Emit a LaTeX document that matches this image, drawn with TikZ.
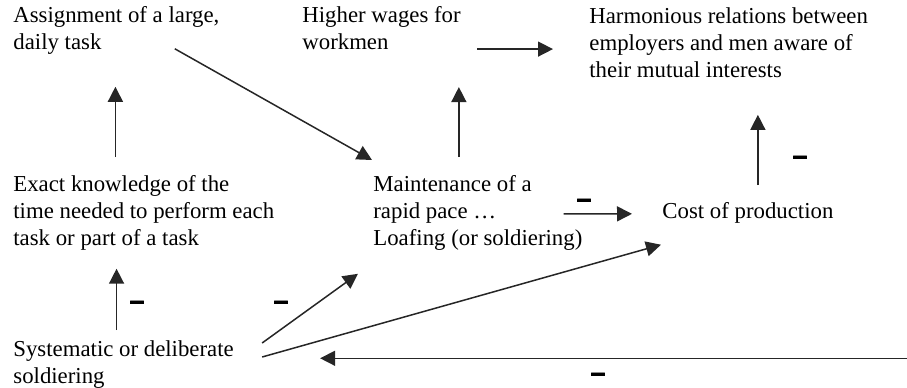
\documentclass[tikz,border=0pt]{standalone}
\usepackage{fontspec}
\setmainfont{Liberation Serif}
\setsansfont{Liberation Sans}
\usetikzlibrary{arrows.meta, calc}

\begin{document}
\begin{tikzpicture}[
    x=0.5pt, y=-0.5pt,
    txt/.style={anchor=north west, inner sep=0pt, align=left,
                font=\fontsize{11.4}{13.5}\selectfont},
    arr/.style={-{Triangle[length=7.5pt, width=7.5pt]}, line width=0.75pt, color=black!85},
    neg/.style={inner sep=0pt, font=\sffamily\bfseries\fontsize{13}{13}\selectfont\addfontfeatures{FakeBold=2.5}},
]
\useasboundingbox (0,0) rectangle (907,387);

% Top row
\node[txt] (assign) at (13,6) {Assignment of a large,\\daily task};
\node[txt] (wages) at (302,6) {Higher wages for\\workmen};
\node[txt] (harm) at (589,7) {Harmonious relations between\\employers and men aware of\\their mutual interests};

% Middle row
\node[txt] (exact) at (13,175) {Exact knowledge of the\\time needed to perform each\\task or part of a task};
\node[txt] (maint) at (373,175) {Maintenance of a\\rapid pace …\\Loafing (or soldiering)};
\node[txt] (cost) at (662,202) {Cost of production};

% Bottom
\node[txt] (syst) at (13,340) {Systematic or deliberate\\soldiering};

% Connectors
\draw[arr] ($(exact.north -| assign.south)+(-1,-18)$) -- ($(assign.south)+(-1,32)$);
\draw[arr] ($(maint.north)+(-19,-18)$) -- ($(maint.north |- wages.south)+(-19,37)$);
\draw[arr] ($(assign.south east)+(-45,-6)$) -- ($(maint.north west)+(-1,-15)$);
\draw[arr] ($(wages.south east)+(16,-1)$) -- ($(harm.west |- wages.south east)+(-36,-1)$);
\draw[arr] ($(cost.north)+(10,-17)$) -- ($(cost.north |- harm.south)+(10,37)$);
\draw[arr] ($(syst.north)+(-7,-10)$) -- ($(syst.north |- exact.south)+(-7,18)$);
\draw[arr] ($(syst.north east)+(28,3)$) -- ($(maint.south west)+(-15,23)$);
\draw[arr] ($(syst.north east)+(28,17)$) -- ($(cost.south west)+(-1,21)$);
\draw[arr] ($(maint.east)+(-19,1)$) -- ($(cost.west)+(-30,1)$);
\draw[arr] ($(harm.south east)+(48,22)$) |- ($(syst.east)+(86,-6)$);

% Signs
\node[neg] (neg1) at (137,305) {–};
\node[neg] (neg2) at (281,305) {–};
\node[neg] (neg3) at (584,203) {–};
\node[neg] (neg4) at (800,160) {–};
\node[neg] (neg5) at (598,377) {–};

\end{tikzpicture}
\end{document}
